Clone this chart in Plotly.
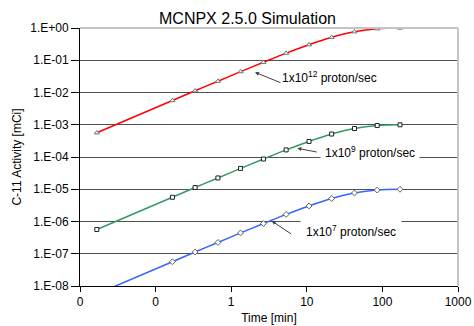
import plotly.graph_objects as go

time_min = [0.0167, 0.167, 0.333, 0.667, 1.33, 2.67, 5.33, 10.7, 21.3, 42.7, 85.3, 171]
act_1e12 = [5.66e-4, 5.65e-3, 1.13e-2, 2.24e-2, 4.43e-2, 8.66e-2, 0.166, 0.304, 0.516, 0.765, 0.945, 0.997]
act_1e9 = [5.66e-7, 5.65e-6, 1.13e-5, 2.24e-5, 4.43e-5, 8.66e-5, 1.66e-4, 3.04e-4, 5.16e-4, 7.65e-4, 9.45e-4, 9.97e-4]
act_1e7 = [5.66e-9, 5.65e-8, 1.13e-7, 2.24e-7, 4.43e-7, 8.66e-7, 1.66e-6, 3.04e-6, 5.16e-6, 7.65e-6, 9.45e-6, 9.97e-6]

x_tickvals = [0.01, 0.1, 1, 10, 100, 1000]
x_ticktext = ["0", "0", "1", "10", "100", "1000"]
y_tickvals = [1, 1e-1, 1e-2, 1e-3, 1e-4, 1e-5, 1e-6, 1e-7, 1e-8]
y_ticktext = ["1.E+00", "1.E-01", "1.E-02", "1.E-03", "1.E-04", "1.E-05", "1.E-06", "1.E-07", "1.E-08"]

FONT = "Liberation Sans, Arial, sans-serif"

fig = go.Figure()
fig.add_trace(go.Scatter(x=time_min, y=act_1e12, mode="lines+markers",
                         line=dict(color="#ff0000", width=1.5, shape="spline"),
                         marker=dict(symbol="triangle-up", size=4.5, color="white",
                                     line=dict(color="#707070", width=1))))
fig.add_trace(go.Scatter(x=time_min, y=act_1e9, mode="lines+markers",
                         line=dict(color="#339966", width=1.5, shape="spline"),
                         marker=dict(symbol="square", size=4, color="white",
                                     line=dict(color="#202020", width=1))))
fig.add_trace(go.Scatter(x=time_min, y=act_1e7, mode="lines+markers",
                         line=dict(color="#3366ff", width=1.5, shape="spline"),
                         marker=dict(symbol="diamond", size=4.5, color="white",
                                     line=dict(color="#606060", width=1))))

fig.update_layout(
    width=474, height=326,
    margin=dict(l=80, r=16, t=28, b=40, autoexpand=False),
    paper_bgcolor="white", plot_bgcolor="white",
    showlegend=False,
    font=dict(family=FONT, size=12, color="black"),
    xaxis=dict(type="log", range=[-2, 3], tickvals=x_tickvals, ticktext=x_ticktext,
               showgrid=False, zeroline=False, showline=True, linecolor="black", linewidth=1,
               ticks="outside", ticklen=5, tickcolor="black", automargin=False,
               ticklabeloverflow="allow",
               tickfont=dict(size=12),
               title=dict(text="Time [min]", font=dict(size=12), standoff=5)),
    yaxis=dict(type="log", range=[-8, 0], tickvals=y_tickvals, ticktext=y_ticktext,
               showgrid=True, gridcolor="#505050", gridwidth=1, zeroline=False,
               showline=True, linecolor="black", linewidth=1,
               ticks="outside", ticklen=8, tickcolor="black", automargin=False,
               ticklabeloverflow="allow",
               tickfont=dict(size=12),
               title=dict(text="C-11 Activity [mCi]", font=dict(size=12), standoff=6)),
)

# top and right plot-area borders (light gray)
fig.add_shape(type="line", xref="paper", yref="paper", x0=0, x1=1, y0=1, y1=1,
              line=dict(color="#c4c4c4", width=2), layer="above")
fig.add_shape(type="line", xref="paper", yref="paper", x0=1, x1=1, y0=0, y1=1,
              line=dict(color="#c4c4c4", width=2), layer="above")

# title
fig.add_annotation(text="MCNPX 2.5.0 Simulation", xref="paper", yref="paper",
                   x=0.442, y=1.0, yshift=10, showarrow=False, xanchor="center", yanchor="middle",
                   font=dict(size=16, family=FONT))

# arrows
arrow_kw = dict(showarrow=True, arrowhead=2, arrowsize=0.8, arrowwidth=1,
                arrowcolor="#404040", axref="pixel", ayref="pixel", text="")
fig.add_annotation(x=0.315, y=-1.374, ax=27, ay=11, **arrow_kw)
fig.add_annotation(x=0.874, y=-3.730, ax=21, ay=4, **arrow_kw)
fig.add_annotation(x=0.536, y=-5.984, ax=21, ay=14, **arrow_kw)

# labels
fig.add_annotation(x=0.646, y=-1.519, text="1x10<sup>12</sup> proton/sec", showarrow=False,
                   xanchor="left", yanchor="middle", font=dict(size=12, family=FONT))
fig.add_annotation(x=1.175, y=-3.836, text="1x10<sup>9</sup> proton/sec", showarrow=False,
                   xanchor="left", yanchor="middle", bgcolor="white", borderpad=4,
                   font=dict(size=12, family=FONT))
fig.add_annotation(x=0.910, y=-6.295, text="1x10<sup>7</sup> proton/sec", showarrow=False,
                   xanchor="left", yanchor="middle", bgcolor="white", borderpad=5,
                   font=dict(size=12, family=FONT))

fig.write_html("out.html", config={"displayModeBar": False},
               post_script="document.body.style.margin='0';document.body.style.overflow='hidden';")
